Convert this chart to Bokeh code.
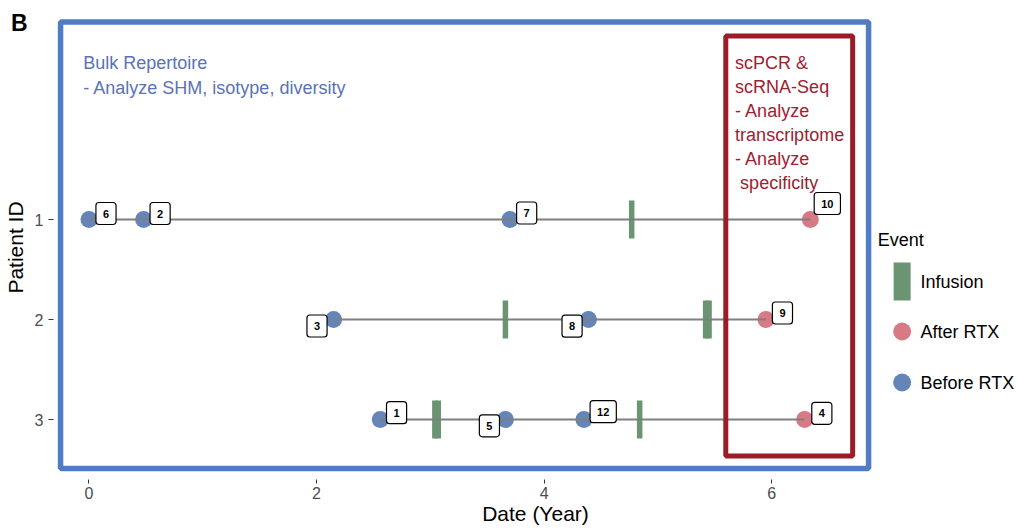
from bokeh.plotting import figure
from bokeh.models import Range1d, FixedTicker, Label, ColumnDataSource, Div
from bokeh.layouts import column
from bokeh.embed import file_html
from bokeh.resources import INLINE
from bokeh.core.properties import value

# ---------------- data ----------------
patient_ids = [1, 2, 3]

sample_patient = [1, 1, 1, 1, 2, 2, 2, 3, 3, 3, 3]
sample_year = [0.00, 0.48, 3.70, 6.34, 2.15, 4.39, 5.95, 2.56, 3.66, 4.35, 6.29]
sample_event = ["Before RTX", "Before RTX", "Before RTX", "After RTX",
                "Before RTX", "Before RTX", "After RTX",
                "Before RTX", "Before RTX", "Before RTX", "After RTX"]
sample_label = ["6", "2", "7", "10", "3", "8", "9", "1", "5", "12", "4"]

infusion_patient = [1, 2, 2, 2, 3, 3, 3]
infusion_year = [4.77, 3.66, 5.42, 5.45, 3.04, 3.07, 4.84]

event_names = ["Infusion", "After RTX", "Before RTX"]

# annotation regions (data coordinates)
bulk_box = [-0.25, 6.852, -0.975, 3.49]   # xmin, xmax, ymin, ymax
sc_box = [5.597, 6.712, -0.835, 3.365]

bulk_text = "Bulk Repertoire\n- Analyze SHM, isotype, diversity"
sc_text = "scPCR &\nscRNA-Seq\n- Analyze\ntranscriptome\n- Analyze\n\u00a0specificity"
panel_letter = "B"

x_ticks = [0, 2, 4, 6]
y_ticks = [1, 2, 3]

# ---------------- style ----------------
FONT = "Liberation Sans"
C_BLUE_PT = "#6584b8"
C_RED_PT = "#d77a86"
C_GREEN = "#6a9472"
C_LINE = "#7f7f7f"
C_BLUE_BOX = "#4f7cc2"
C_BLUE_TXT = "#5a72b8"
C_RED_BOX = "#9b1b27"
C_RED_TXT = "#9e2130"
event_color = {"Infusion": C_GREEN, "After RTX": C_RED_PT, "Before RTX": C_BLUE_PT}

# repel offsets of the sample-number labels (screen px, +x right, +y down)
label_offsets = {"6": (17, -6), "2": (16.5, -6), "7": (16.7, -6.5), "10": (17, -16),
                 "3": (-16.6, 6.5), "8": (-16.4, 6.7), "9": (16.5, -6.5),
                 "1": (16.3, -6.8), "5": (-16, 6.3), "12": (19.3, -7.8), "4": (17.2, -6.2)}

p = figure(width=1017, height=529,
           x_range=Range1d(-0.312, 8.161), y_range=Range1d(3.6, -1.04),
           output_backend="svg", toolbar_location=None,
           min_border_left=52, min_border_right=0, min_border_top=15, min_border_bottom=50)
p.outline_line_color = None
p.border_fill_color = None
p.grid.visible = False

# axes
for ax in (p.xaxis[0], p.yaxis[0]):
    ax.axis_line_color = None
    ax.major_tick_in = 0
    ax.minor_tick_line_color = None
    ax.major_tick_line_color = "#333333"
    ax.major_label_text_font = FONT
    ax.major_label_text_font_size = "16px"
    ax.major_label_text_color = "#4d4d4d"
    ax.axis_label_text_font = FONT
    ax.axis_label_text_font_size = "21px"
    ax.axis_label_text_font_style = "normal"
    ax.axis_label_text_color = "black"
p.xaxis.ticker = FixedTicker(ticks=x_ticks)
p.yaxis.ticker = FixedTicker(ticks=y_ticks)
p.xaxis.major_tick_out = 4
p.yaxis.major_tick_out = 5
p.xaxis.major_label_standoff = 3
p.xaxis.axis_label_standoff = 0
p.yaxis.major_label_standoff = 5
p.yaxis.axis_label_standoff = 5
p.xaxis.axis_label = "Date (Year)"
p.yaxis.axis_label = "Patient ID"

# points
src = ColumnDataSource(dict(x=sample_year, y=sample_patient,
                            color=[event_color[e] for e in sample_event]))
p.scatter("x", "y", source=src, size=17, fill_color="color", line_color=None)

# infusion bars
p.rect(x=infusion_year, y=infusion_patient, width=5.5, width_units="screen",
       height=0.38, fill_color=C_GREEN, line_color=None)

# patient timelines
x0s, x1s = [], []
for pid in patient_ids:
    xs = [x for x, q in zip(sample_year, sample_patient) if q == pid]
    x0s.append(min(xs))
    x1s.append(max(xs))
p.segment(x0=x0s, y0=patient_ids, x1=x1s, y1=patient_ids, line_color=C_LINE, line_width=2)

# boxes
p.quad(left=[bulk_box[0]], right=[bulk_box[1]], top=[bulk_box[2]], bottom=[bulk_box[3]],
       fill_color=None, line_color=C_BLUE_BOX, line_width=5.5)
p.quad(left=[sc_box[0]], right=[sc_box[1]], top=[sc_box[2]], bottom=[sc_box[3]],
       fill_color=None, line_color=C_RED_BOX, line_width=5)

# sample labels
for x, y, t in zip(sample_year, sample_patient, sample_label):
    dx, dy = label_offsets[t]
    p.add_layout(Label(x=x, y=y, x_offset=dx, y_offset=-dy, text=t,
                       text_align="center", text_baseline="middle",
                       text_font=FONT, text_font_size="11px", text_font_style="bold",
                       text_color="black", background_fill_color="white",
                       border_line_color="black", border_line_width=1.2,
                       border_radius=3, padding=(7, 7)))

# annotation texts
p.add_layout(Label(x=-0.05, y=-0.665, text=bulk_text, text_align="left", text_baseline="top",
                   text_font=FONT, text_font_size="18px", text_color=C_BLUE_TXT,
                   text_line_height=1.25))
p.add_layout(Label(x=5.679, y=-0.665, text=sc_text, text_align="left", text_baseline="top",
                   text_font=FONT, text_font_size="18px", text_color=C_RED_TXT,
                   text_line_height=1.2))

# legend (manual)
leg_title_x, leg_key_x, leg_text_x = 6.932, 7.147, 7.309
leg_title_y = 1.20
leg_y = [1.62, 2.12, 2.63]
p.text(x=[leg_title_x], y=[leg_title_y], text=["Event"], text_align="left",
       text_baseline="middle", text_font=value(FONT), text_font_size="18px",
       text_color="black")
p.rect(x=[leg_key_x], y=[leg_y[0]], width=17, width_units="screen", height=0.38,
       fill_color=C_GREEN, line_color=None)
p.scatter(x=[leg_key_x, leg_key_x], y=leg_y[1:], size=18,
          fill_color=[event_color[e] for e in event_names[1:]], line_color=None)
p.text(x=[leg_text_x] * 3, y=leg_y, text=event_names, text_align="left",
       text_baseline="middle", text_font=value(FONT), text_font_size="18px",
       text_color="black")

# panel letter (overlaid on the figure's top-left corner)
letter = Div(text=panel_letter, width=30, height=30, margin=(-517, 0, 0, 11),
             styles={"font-family": FONT, "font-size": "23px", "font-weight": "bold",
                     "color": "black", "line-height": "1", "z-index": "10"})

layout = column(p, letter)
open("out.html", "w").write(file_html(layout, INLINE))
